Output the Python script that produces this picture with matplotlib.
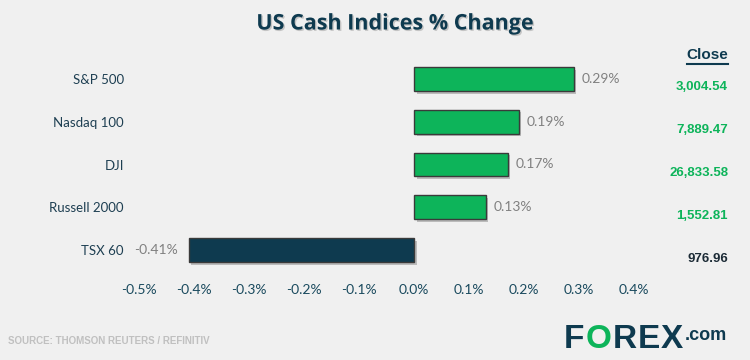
import matplotlib
matplotlib.use("Agg")
import matplotlib.pyplot as plt
import matplotlib.patheffects as pe
from matplotlib.transforms import blended_transform_factory

categories = ["S&P 500", "Nasdaq 100", "DJI", "Russell 2000", "TSX 60"]
changes = [0.29, 0.19, 0.17, 0.13, -0.41]
closes = ["3,004.54", "7,889.47", "26,833.58", "1,552.81", "976.96"]
xticks = [-0.5, -0.4, -0.3, -0.2, -0.1, 0.0, 0.1, 0.2, 0.3, 0.4]

BG = "#f0f0f0"
GREEN = "#0db45a"
DARK = "#0e3a4f"

fig = plt.figure(figsize=(7.5, 3.6), dpi=100, facecolor=BG)
ax = fig.add_axes([139/750, 1-271.5/360, 495/750, 214/360], facecolor=BG)

ypos = list(range(len(categories)))
colors = [GREEN if v >= 0 else DARK for v in changes]
bars = ax.barh(ypos, changes, height=0.56, color=colors, edgecolor="#3a3a3a", linewidth=1.0)
for b in bars:
    b.set_path_effects([pe.SimplePatchShadow(offset=(2, -2), shadow_rgbFace="#888888", alpha=0.5), pe.Normal()])

for y, v in zip(ypos, changes):
    if v >= 0:
        ax.text(v + 0.015, y, f"{v:.2f}%", ha="left", va="center", color="#808080", fontsize=10, family="Lato")
    else:
        ax.text(v - 0.02, y, f"{v:.2f}%", ha="right", va="center", color="#808080", fontsize=10, family="Lato")

ax.set_xlim(-0.5, 0.4)
ax.set_ylim(4.5, -0.5)
ax.set_xticks(xticks)
ax.set_xticklabels([f"{t:.1f}%" for t in xticks], color="#1a4a5e", fontsize=10, family="Lato")
ax.set_yticks(ypos)
ax.set_yticklabels(categories, color="#1e3f52", fontsize=9.5, family="Lato")
ax.tick_params(axis="both", length=0)
ax.tick_params(axis="x", pad=9)
ax.tick_params(axis="y", pad=11)
for s in ax.spines.values():
    s.set_visible(False)

tr = blended_transform_factory(fig.transFigure, ax.transData)
for y, c, v in zip(ypos, closes, changes):
    ax.text(728/750, y + 0.2, c, transform=tr, ha="right", va="center",
            color=GREEN if v >= 0 else "#1c2b36", fontsize=9.5, fontweight="bold", family="Liberation Sans")

fig.text(728/750, 1-55/360, "Close", ha="right", va="center", color=DARK, fontsize=11,
         fontweight="bold", family="Liberation Sans")
fig.add_artist(plt.Line2D([687/750, 728/750], [1-64/360, 1-64/360], color=DARK, lw=1.5))

fig.text(395/750, 1-24/360, "US Cash Indices % Change", ha="center", va="center", color=DARK,
         fontsize=15.5, fontweight="bold", family="Open Sans",
         path_effects=[pe.withSimplePatchShadow(offset=(1, -1), shadow_rgbFace="#999999", alpha=0.5)])

fig.text(8/750, 1-341/360, "SOURCE: THOMSON REUTERS / REFINITIV", ha="left", va="center",
         color="#c0c0c0", fontsize=7, fontweight="bold", family="Liberation Sans")

# logo
lx, ly = 564/750, 1-339/360
fig.canvas.draw()
r = fig.canvas.get_renderer()
def nxt(t, gap=0.0):
    bb = t.get_window_extent(r)
    return bb.x1 / fig.bbox.width + gap
x = lx
for ch, col in [("F", DARK), ("O", GREEN), ("R", DARK), ("E", DARK), ("X", DARK)]:
    t = fig.text(x, ly, ch, ha="left", va="center", color=col, fontsize=24, fontweight="bold", family="Liberation Sans")
    x = nxt(t, 0.0015)
fig.text(x + 0.001, ly + 0.01, ".com", ha="left", va="center", color=DARK, fontsize=13, fontweight="bold", family="Liberation Sans")

fig.savefig("out.png", dpi=100, facecolor=BG)
